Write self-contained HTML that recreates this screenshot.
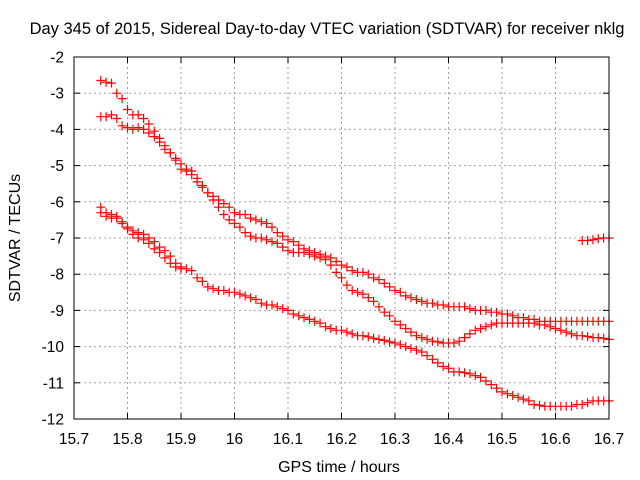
<!DOCTYPE html>
<html><head><meta charset="utf-8"><style>
body{margin:0;background:#fff;}
svg{display:block;font-family:"Liberation Sans",sans-serif;}
</style></head><body>
<svg id="chart" width="640" height="480">
<rect width="640" height="480" fill="#fff"/>
<text x="327" y="34" text-anchor="middle" font-size="16.5" fill="#000">Day 345 of 2015, Sidereal Day-to-day VTEC variation (SDTVAR) for receiver nklg</text>
<text x="339" y="472" text-anchor="middle" font-size="16" fill="#000">GPS time / hours</text>
<text transform="translate(20,238) rotate(-90)" text-anchor="middle" font-size="16" fill="#000">SDTVAR / TECUs</text>
<g id="grid"></g>
<g id="ticks"></g>
<g id="marks"></g>
<rect x="74" y="57" width="535" height="362" fill="none" stroke="#000" stroke-width="1"/>
</svg>
<script>
const xTicks = [15.7,15.8,15.9,16.0,16.1,16.2,16.3,16.4,16.5,16.6,16.7];
const xTickLabels = ["15.7","15.8","15.9","16","16.1","16.2","16.3","16.4","16.5","16.6","16.7"];
const yTicks = [-2,-3,-4,-5,-6,-7,-8,-9,-10,-11,-12];
const yTickLabels = ["-2","-3","-4","-5","-6","-7","-8","-9","-10","-11","-12"];
const step = 0.01;
const s1Start = 15.75;
const s1 = [-2.65,-2.7,-2.72,-3.0,-3.15,-3.45,-3.6,-3.6,-3.7,-3.85,-4.05,-4.25,-4.55,-4.65,-4.85,-5.1,-5.15,-5.25,-5.45,-5.6,-5.75,-5.85,-5.95,-6.05,-6.15,-6.3,-6.35,-6.35,-6.45,-6.5,-6.55,-6.6,-6.7,-6.85,-6.95,-7.05,-7.1,-7.2,-7.3,-7.35,-7.4,-7.45,-7.5,-7.55,-7.65,-7.75,-7.8,-7.9,-7.95,-7.95,-8.0,-8.1,-8.15,-8.25,-8.35,-8.45,-8.5,-8.6,-8.65,-8.7,-8.75,-8.8,-8.8,-8.85,-8.85,-8.9,-8.9,-8.9,-8.9,-8.95,-9.0,-9.0,-9.0,-9.05,-9.05,-9.1,-9.1,-9.15,-9.2,-9.2,-9.25,-9.25,-9.3,-9.3,-9.3,-9.3,-9.3,-9.3,-9.3,-9.3,-9.3,-9.3,-9.3,-9.3,-9.3,-9.3];
const s2Start = 15.75;
const s2 = [-3.65,-3.65,-3.6,-3.7,-3.9,-3.95,-4.0,-3.95,-4.0,-4.1,-4.2,-4.35,-4.45,-4.65,-4.8,-4.95,-5.1,-5.15,-5.35,-5.55,-5.75,-5.95,-6.15,-6.35,-6.5,-6.6,-6.7,-6.85,-6.95,-7.0,-7.0,-7.05,-7.1,-7.15,-7.25,-7.35,-7.4,-7.4,-7.4,-7.45,-7.5,-7.55,-7.6,-7.75,-7.95,-8.1,-8.3,-8.45,-8.5,-8.55,-8.65,-8.75,-8.9,-9.05,-9.15,-9.3,-9.4,-9.5,-9.6,-9.7,-9.75,-9.8,-9.85,-9.87,-9.9,-9.9,-9.9,-9.85,-9.75,-9.65,-9.55,-9.5,-9.45,-9.4,-9.35,-9.35,-9.35,-9.35,-9.35,-9.35,-9.35,-9.35,-9.4,-9.4,-9.45,-9.5,-9.55,-9.6,-9.65,-9.7,-9.7,-9.72,-9.75,-9.75,-9.77,-9.8];
const s3Start = 15.75;
const s3 = [-6.15,-6.3,-6.35,-6.4,-6.55,-6.7,-6.8,-6.85,-6.9,-7.0,-7.1,-7.25,-7.35,-7.5,-7.7,-7.8,-7.85,-7.9,-8.1,-8.2,-8.35,-8.4,-8.45,-8.45,-8.5,-8.5,-8.55,-8.6,-8.65,-8.7,-8.8,-8.85,-8.85,-8.9,-8.95,-9.0,-9.1,-9.15,-9.2,-9.25,-9.3,-9.35,-9.45,-9.5,-9.55,-9.55,-9.6,-9.65,-9.7,-9.7,-9.73,-9.77,-9.8,-9.83,-9.87,-9.9,-9.95,-10.0,-10.05,-10.1,-10.15,-10.25,-10.35,-10.45,-10.55,-10.6,-10.7,-10.7,-10.72,-10.75,-10.8,-10.85,-10.95,-11.05,-11.15,-11.25,-11.3,-11.35,-11.4,-11.45,-11.5,-11.6,-11.62,-11.65,-11.65,-11.65,-11.65,-11.65,-11.65,-11.6,-11.6,-11.55,-11.5,-11.5,-11.5,-11.5];
const s4Start = 15.75;
const s4 = [-6.3,-6.4,-6.45,-6.45,-6.6,-6.75,-6.9,-7.0,-7.05,-7.15,-7.3,-7.4,-7.55,-7.7,-7.8,-7.85];
const s5Start = 16.65;
const s5 = [-7.07,-7.07,-7.05,-7.02,-7.0,-7.0];

const NS = "http://www.w3.org/2000/svg";
const X0=74, X1=609, Y0=57, Y1=419;
function xScale(t){ return X0 + (t-15.7)/(16.7-15.7)*(X1-X0); }
function yScale(v){ return Y0 + (-2 - v)/10*(Y1-Y0); }
function mk(tag, attrs, parent){ const e=document.createElementNS(NS,tag); for(const k in attrs) e.setAttribute(k,attrs[k]); parent.appendChild(e); return e; }

const grid=document.getElementById('grid'), ticks=document.getElementById('ticks'), marks=document.getElementById('marks');
xTicks.forEach((t,i)=>{
  const x=xScale(t);
  if(i>0 && i<xTicks.length-1){
    const g=mk('line',{x1:x,x2:x,y1:Y0,y2:Y1,stroke:'#a0a0a0','stroke-dasharray':'2,3'},grid);
    
    
  }
  mk('line',{x1:x,x2:x,y1:Y1,y2:Y1-6,stroke:'#000'},ticks);
  mk('line',{x1:x,x2:x,y1:Y0,y2:Y0+6,stroke:'#000'},ticks);
  const l=mk('text',{x:x,y:Y1+25,'text-anchor':'middle','font-size':'15.5'},ticks);
  l.textContent=xTickLabels[i];
  
  
});
yTicks.forEach((v,i)=>{
  const y=yScale(v);
  if(i>0 && i<yTicks.length-1){
    const g=mk('line',{x1:X0,x2:X1,y1:y,y2:y,stroke:'#a0a0a0','stroke-dasharray':'2,3'},grid);
    
    
  }
  mk('line',{x1:X0,x2:X0+6,y1:y,y2:y,stroke:'#000'},ticks);
  mk('line',{x1:X1,x2:X1-6,y1:y,y2:y,stroke:'#000'},ticks);
  const l=mk('text',{x:X0-10,y:y+5.5,'text-anchor':'end','font-size':'15.5'},ticks);
  l.textContent=yTickLabels[i];
  
  
});
function drawSeries(start, vals, name){
  const g=mk('g',{},marks);
  
  
  let d='';
  vals.forEach((v,i)=>{
    const x=xScale(start+i*step), y=yScale(v);
    d+=`M${(x-4.5).toFixed(1)} ${y.toFixed(1)}h9M${x.toFixed(1)} ${(y-4.5).toFixed(1)}v9`;
  });
  const p=mk('path',{d:d,stroke:'#ff0000','stroke-width':'1.2',fill:'none'},g);
  
  
}
drawSeries(s1Start,s1,'series-1');
drawSeries(s2Start,s2,'series-2');
drawSeries(s3Start,s3,'series-3');
drawSeries(s4Start,s4,'series-4');
drawSeries(s5Start,s5,'series-5');
</script>
</body></html>
